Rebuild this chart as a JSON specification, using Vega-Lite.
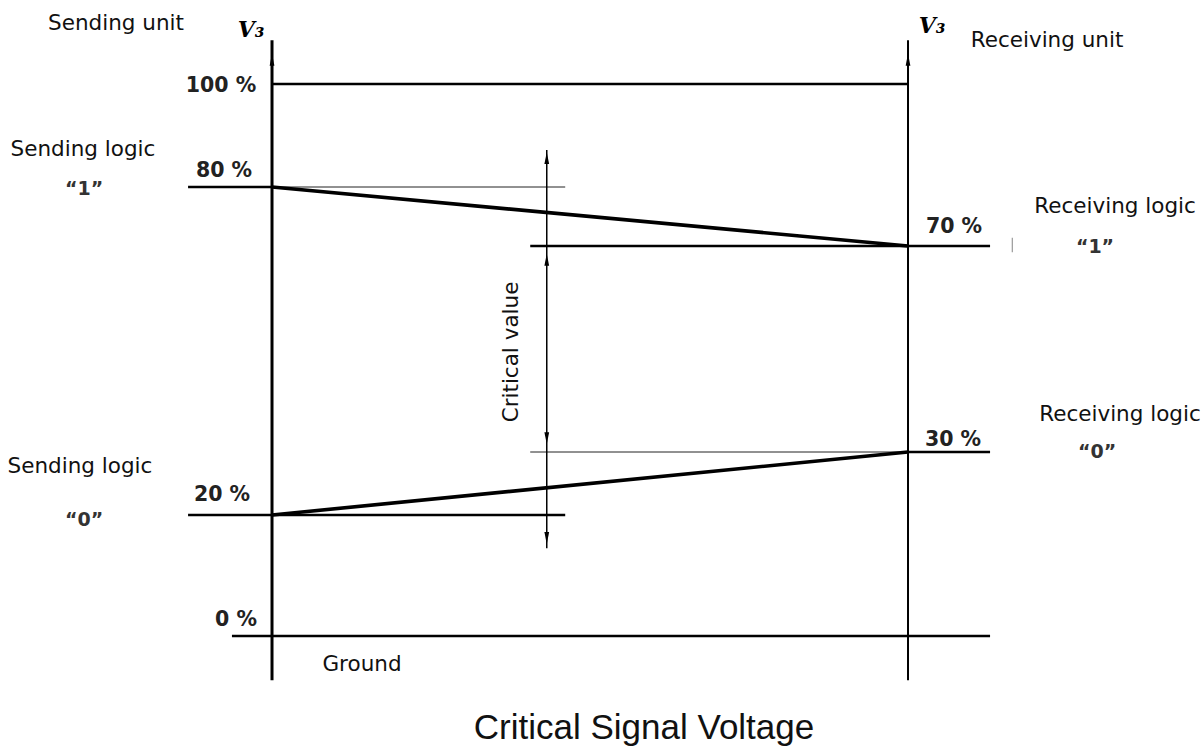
{
  "$schema": "https://vega.github.io/schema/vega-lite/v6.json",
  "width": 1204,
  "height": 748,
  "autosize": {"type": "none"},
  "padding": 0,
  "background": "white",
  "config": {"view": {"stroke": null}},
  "datasets": {
    "levels": [
      {"level": 100, "from": 0, "to": 100, "kind": "level"},
      {"level": 80, "from": -13.2, "to": 0, "kind": "level"},
      {"level": 80, "from": 0, "to": 46.1, "kind": "guide"},
      {"level": 70, "from": 40.6, "to": 112.9, "kind": "level"},
      {"level": 30, "from": 40.6, "to": 100, "kind": "guide"},
      {"level": 30, "from": 100, "to": 112.9, "kind": "level"},
      {"level": 20, "from": -13.2, "to": 46.1, "kind": "level"},
      {"level": 0, "from": -6.3, "to": 112.9, "kind": "level"}
    ],
    "signals": [
      {"signal": "logic 1", "x0": 0, "v0": 80, "x1": 100, "v1": 70},
      {"signal": "logic 0", "x0": 0, "v0": 20, "x1": 100, "v1": 30}
    ],
    "verticals": [
      {"name": "sending", "pos": 0, "low": -7.3, "high": 108.5},
      {"name": "receiving", "pos": 100, "low": -7.3, "high": 108.5},
      {"name": "critical", "pos": 43.2, "low": 14.5, "high": 87.2},
      {"name": "marker", "pos": 116.4, "low": 68.8, "high": 71.4}
    ],
    "arrows": [
      {"pos": 0, "level": 104.7, "dir": "up"},
      {"pos": 100, "level": 104.7, "dir": "up"},
      {"pos": 43.2, "level": 85.6, "dir": "up"},
      {"pos": 43.2, "level": 67.3, "dir": "up"},
      {"pos": 43.2, "level": 32.7, "dir": "down"},
      {"pos": 43.2, "level": 16.2, "dir": "down"}
    ],
    "labels": [
      {"text": "Sending unit", "pos": -24.53, "level": 111.65, "kind": "label"},
      {"text": "Receiving unit", "pos": 121.86, "level": 108.35, "kind": "label"},
      {"text": "Sending logic", "pos": -29.72, "level": 87.18, "kind": "label"},
      {"text": "Receiving logic", "pos": 132.55, "level": 76.61, "kind": "label"},
      {"text": "Receiving logic", "pos": 133.33, "level": 37.18, "kind": "label"},
      {"text": "Sending logic", "pos": -30.19, "level": 27.62, "kind": "label"},
      {"text": "Ground", "pos": 14.15, "level": -4.79, "kind": "label"},
      {"text": "“1”", "pos": -29.56, "level": 79.66, "kind": "quote"},
      {"text": "“1”", "pos": 129.4, "level": 69.81, "kind": "quote"},
      {"text": "“0”", "pos": 129.72, "level": 30, "kind": "quote"},
      {"text": "“0”", "pos": -29.56, "level": 19.17, "kind": "quote"},
      {"text": "100 %", "pos": -8.02, "level": 99.61, "kind": "percent"},
      {"text": "80 %", "pos": -7.55, "level": 83.11, "kind": "percent"},
      {"text": "70 %", "pos": 107.23, "level": 73.22, "kind": "percent"},
      {"text": "30 %", "pos": 107.08, "level": 32.38, "kind": "percent"},
      {"text": "20 %", "pos": -7.86, "level": 23.17, "kind": "percent"},
      {"text": "0 %", "pos": -5.66, "level": 2.64, "kind": "percent"},
      {"text": "V₃", "pos": -3.3, "level": 110.49, "kind": "symbol"},
      {"text": "V₃", "pos": 103.77, "level": 111.26, "kind": "symbol"},
      {"text": "Critical value", "pos": 37.74, "level": 49.42, "kind": "vertical"},
      {"text": "Critical Signal Voltage", "pos": 58.49, "level": -15.21, "kind": "title"}
    ]
  },
  "layer": [
    {
      "data": {"name": "levels"},
      "transform": [{"filter": "datum.kind === 'level'"}],
      "mark": {"type": "rule", "color": "#000", "strokeWidth": 2.6},
      "encoding": {
        "x": {"field": "from", "type": "quantitative", "axis": null, "scale": {"domain": [-42.77, 146.54], "range": [0, 1204], "zero": false, "nice": false}},
        "x2": {"field": "to"},
        "y": {"field": "level", "type": "quantitative", "axis": null, "scale": {"domain": [-18.5, 0, 20, 30, 70, 80, 100, 116.3], "range": [748, 636, 515, 452, 246, 187, 84, 0], "zero": false, "nice": false}}
      }
    },
    {
      "data": {"name": "levels"},
      "transform": [{"filter": "datum.kind === 'guide'"}],
      "mark": {"type": "rule", "color": "#222", "strokeWidth": 1},
      "encoding": {
        "x": {"field": "from", "type": "quantitative"},
        "x2": {"field": "to"},
        "y": {"field": "level", "type": "quantitative"}
      }
    },
    {
      "data": {"name": "signals"},
      "mark": {"type": "rule", "color": "#000", "strokeWidth": 3.6},
      "encoding": {
        "x": {"field": "x0", "type": "quantitative"},
        "x2": {"field": "x1"},
        "y": {"field": "v0", "type": "quantitative"},
        "y2": {"field": "v1"}
      }
    },
    {
      "data": {"name": "verticals"},
      "transform": [{"filter": "datum.name === 'sending'"}],
      "mark": {"type": "rule", "color": "#000", "strokeWidth": 3},
      "encoding": {
        "x": {"field": "pos", "type": "quantitative"},
        "y": {"field": "low", "type": "quantitative"},
        "y2": {"field": "high"}
      }
    },
    {
      "data": {"name": "verticals"},
      "transform": [{"filter": "datum.name === 'receiving'"}],
      "mark": {"type": "rule", "color": "#000", "strokeWidth": 2},
      "encoding": {
        "x": {"field": "pos", "type": "quantitative"},
        "y": {"field": "low", "type": "quantitative"},
        "y2": {"field": "high"}
      }
    },
    {
      "data": {"name": "verticals"},
      "transform": [{"filter": "datum.name === 'critical'"}],
      "mark": {"type": "rule", "color": "#000", "strokeWidth": 1.5},
      "encoding": {
        "x": {"field": "pos", "type": "quantitative"},
        "y": {"field": "low", "type": "quantitative"},
        "y2": {"field": "high"}
      }
    },
    {
      "data": {"name": "verticals"},
      "transform": [{"filter": "datum.name === 'marker'"}],
      "mark": {"type": "rule", "color": "#999", "strokeWidth": 1.2},
      "encoding": {
        "x": {"field": "pos", "type": "quantitative"},
        "y": {"field": "low", "type": "quantitative"},
        "y2": {"field": "high"}
      }
    },
    {
      "data": {"name": "arrows"},
      "transform": [{"filter": "datum.dir === 'up'"}],
      "mark": {"type": "point", "filled": true, "fill": "#000", "strokeWidth": 0, "size": 220, "opacity": 1, "shape": "M-0.32,0.8L0,-0.8L0.32,0.8Z"},
      "encoding": {
        "x": {"field": "pos", "type": "quantitative"},
        "y": {"field": "level", "type": "quantitative"}
      }
    },
    {
      "data": {"name": "arrows"},
      "transform": [{"filter": "datum.dir === 'down'"}],
      "mark": {"type": "point", "filled": true, "fill": "#000", "strokeWidth": 0, "size": 220, "opacity": 1, "shape": "M-0.32,-0.8L0,0.8L0.32,-0.8Z"},
      "encoding": {
        "x": {"field": "pos", "type": "quantitative"},
        "y": {"field": "level", "type": "quantitative"}
      }
    },
    {
      "data": {"name": "labels"},
      "transform": [{"filter": "datum.kind === 'label'"}],
      "mark": {"type": "text", "font": "DejaVu Sans", "fontSize": 21.5, "color": "#111", "align": "center", "baseline": "middle"},
      "encoding": {
        "x": {"field": "pos", "type": "quantitative"},
        "y": {"field": "level", "type": "quantitative"},
        "text": {"field": "text"}
      }
    },
    {
      "data": {"name": "labels"},
      "transform": [{"filter": "datum.kind === 'vertical'"}],
      "mark": {"type": "text", "font": "DejaVu Sans", "fontSize": 21.5, "color": "#111", "align": "center", "baseline": "middle", "angle": 270},
      "encoding": {
        "x": {"field": "pos", "type": "quantitative"},
        "y": {"field": "level", "type": "quantitative"},
        "text": {"field": "text"}
      }
    },
    {
      "data": {"name": "labels"},
      "transform": [{"filter": "datum.kind === 'quote'"}],
      "mark": {"type": "text", "font": "DejaVu Sans", "fontSize": 19, "fontWeight": "bold", "color": "#333", "align": "center", "baseline": "middle"},
      "encoding": {
        "x": {"field": "pos", "type": "quantitative"},
        "y": {"field": "level", "type": "quantitative"},
        "text": {"field": "text"}
      }
    },
    {
      "data": {"name": "labels"},
      "transform": [{"filter": "datum.kind === 'percent'"}],
      "mark": {"type": "text", "font": "DejaVu Sans", "fontSize": 20.5, "fontWeight": "bold", "color": "#222", "align": "center", "baseline": "middle"},
      "encoding": {
        "x": {"field": "pos", "type": "quantitative"},
        "y": {"field": "level", "type": "quantitative"},
        "text": {"field": "text"}
      }
    },
    {
      "data": {"name": "labels"},
      "transform": [{"filter": "datum.kind === 'symbol'"}],
      "mark": {"type": "text", "font": "DejaVu Serif", "fontSize": 22, "fontWeight": "bold", "fontStyle": "italic", "color": "#000", "align": "center", "baseline": "middle"},
      "encoding": {
        "x": {"field": "pos", "type": "quantitative"},
        "y": {"field": "level", "type": "quantitative"},
        "text": {"field": "text"}
      }
    },
    {
      "data": {"name": "labels"},
      "transform": [{"filter": "datum.kind === 'title'"}],
      "mark": {"type": "text", "font": "Liberation Sans", "fontSize": 35, "color": "#111", "align": "center", "baseline": "middle"},
      "encoding": {
        "x": {"field": "pos", "type": "quantitative"},
        "y": {"field": "level", "type": "quantitative"},
        "text": {"field": "text"}
      }
    }
  ]
}
